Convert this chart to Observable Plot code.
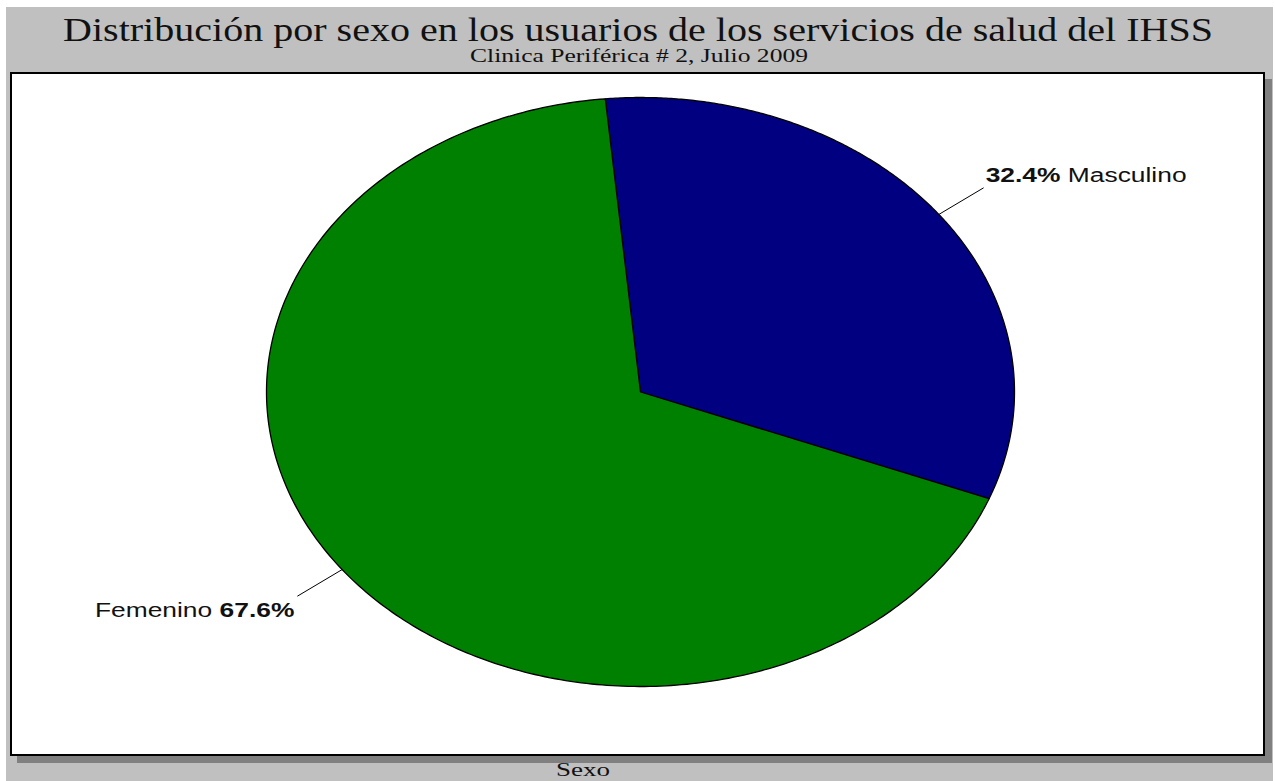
<!DOCTYPE html>
<html><head><meta charset="utf-8">
<script src="https://cdn.jsdelivr.net/npm/d3@7"></script>
<script src="https://cdn.jsdelivr.net/npm/@observablehq/plot@0.6"></script>
<style>
html,body{margin:0;padding:0;background:#fff;}
#page{position:relative;width:1275px;height:781px;overflow:hidden;}
#bg{position:absolute;left:6px;top:7px;width:1267px;height:774px;background:#c0c0c0;}
.t{position:absolute;left:0;top:0;white-space:nowrap;font-family:"Liberation Serif","Times New Roman",serif;color:#111;line-height:1;transform-origin:0 0;}
#box{position:absolute;left:10px;top:72px;width:1255px;height:684px;box-sizing:border-box;border:2px solid #000;background:#fff;box-shadow:7px 7px 0 #808080;}
#box svg{display:block;}
</style></head><body>
<div id="page"><div id="bg"></div>
<div id="title" class="t"></div>
<div id="subtitle" class="t"></div>
<div id="box"></div>
<div id="xlabel" class="t"></div>
</div>
<script>
// ---- data ----
const categories = ["Masculino", "Femenino"];
const percentages = [32.4, 67.6];
const colors = ["#000080", "#008000"];
const titleText = "Distribución por sexo en los usuarios de los servicios de salud del IHSS";
const subtitleText = "Clinica Periférica # 2, Julio 2009";
const xLabelText = "Sexo";

// ---- layout / style ----
const startAngle = -5.4 * Math.PI / 180;
const labelStretch = 1.32;

function placeText(id, txt, fs, left, right, baseline) {
  const el = document.getElementById(id);
  el.textContent = txt;
  el.style.fontSize = fs + "px";
  const w = el.getBoundingClientRect().width;
  const s = (right - left) / w;
  el.style.left = left + "px";
  el.style.top = (baseline - 0.8375 * fs) + "px";
  el.style.transform = `scaleX(${s})`;
}
placeText("title", titleText, 34, 63, 1213, 41);
placeText("subtitle", subtitleText, 19, 470, 808, 62);
placeText("xlabel", xLabelText, 19, 556, 610, 776);

const arcs = d3.pie().sort(null).startAngle(startAngle).endAngle(startAngle + 2 * Math.PI)(percentages);
const slicePoints = [];
arcs.forEach((a, i) => {
  slicePoints.push({name: categories[i], x: 0, y: 0});
  const n = 300;
  for (let k = 0; k <= n; k++) {
    const t = a.startAngle + (a.endAngle - a.startAngle) * k / n;
    slicePoints.push({name: categories[i], x: Math.sin(t), y: Math.cos(t)});
  }
});
const labels = arcs.map((a, i) => {
  const m = (a.startAngle + a.endAngle) / 2;
  return {name: categories[i], pct: percentages[i],
    x1: Math.sin(m), y1: Math.cos(m), x2: Math.sin(m) * 1.15, y2: Math.cos(m) * 1.15,
    right: Math.sin(m) > 0};
});

const fontFam = "Liberation Sans, Arial, sans-serif";
const svg = Plot.plot({
  width: 1251, height: 680,
  marginLeft: 254, marginRight: 249, marginTop: 23, marginBottom: 68,
  x: {domain: [-1, 1], axis: null},
  y: {domain: [-1, 1], axis: null},
  color: {domain: categories, range: colors},
  style: {background: "#fff", overflow: "visible"},
  marks: [
    Plot.line(slicePoints, {x: "x", y: "y", z: "name", fill: "name", stroke: "#000", strokeWidth: 1.3, curve: "linear-closed"}),
    Plot.link(labels, {x1: "x1", y1: "y1", x2: "x2", y2: "y2", stroke: "#000", strokeWidth: 1}),
    Plot.text(labels.filter(d => d.right), {x: "x2", y: "y2", text: d => `${d.pct.toFixed(1)}% ${d.name}`,
      textAnchor: "start", dx: 2, dy: -12, fontSize: 20, fill: "#111", fontFamily: fontFam}),
    Plot.text(labels.filter(d => !d.right), {x: "x2", y: "y2", text: d => `${d.name} ${d.pct.toFixed(1)}%`,
      textAnchor: "end", dx: -3, dy: 14, fontSize: 20, fill: "#111", fontFamily: fontFam})
  ]
});
document.getElementById("box").appendChild(svg);

d3.select(svg).selectAll('g[aria-label="text"] text').each(function() {
  const s = this.textContent;
  const parts = s.split(/(\d+\.\d%)/).filter(p => p !== "");
  this.textContent = "";
  parts.forEach(p => {
    const ts = document.createElementNS("http://www.w3.org/2000/svg", "tspan");
    ts.textContent = p;
    if (/%$/.test(p)) ts.setAttribute("font-weight", "bold");
    this.appendChild(ts);
  });
  const tr = this.getAttribute("transform");
  if (tr) this.setAttribute("transform", tr + ` scale(${labelStretch},1)`);
  else {
    const x = +this.getAttribute("x") || 0, y = +this.getAttribute("y") || 0;
    this.removeAttribute("x"); this.removeAttribute("y");
    this.setAttribute("transform", `translate(${x},${y}) scale(${labelStretch},1)`);
  }
});
</script>
</body></html>
